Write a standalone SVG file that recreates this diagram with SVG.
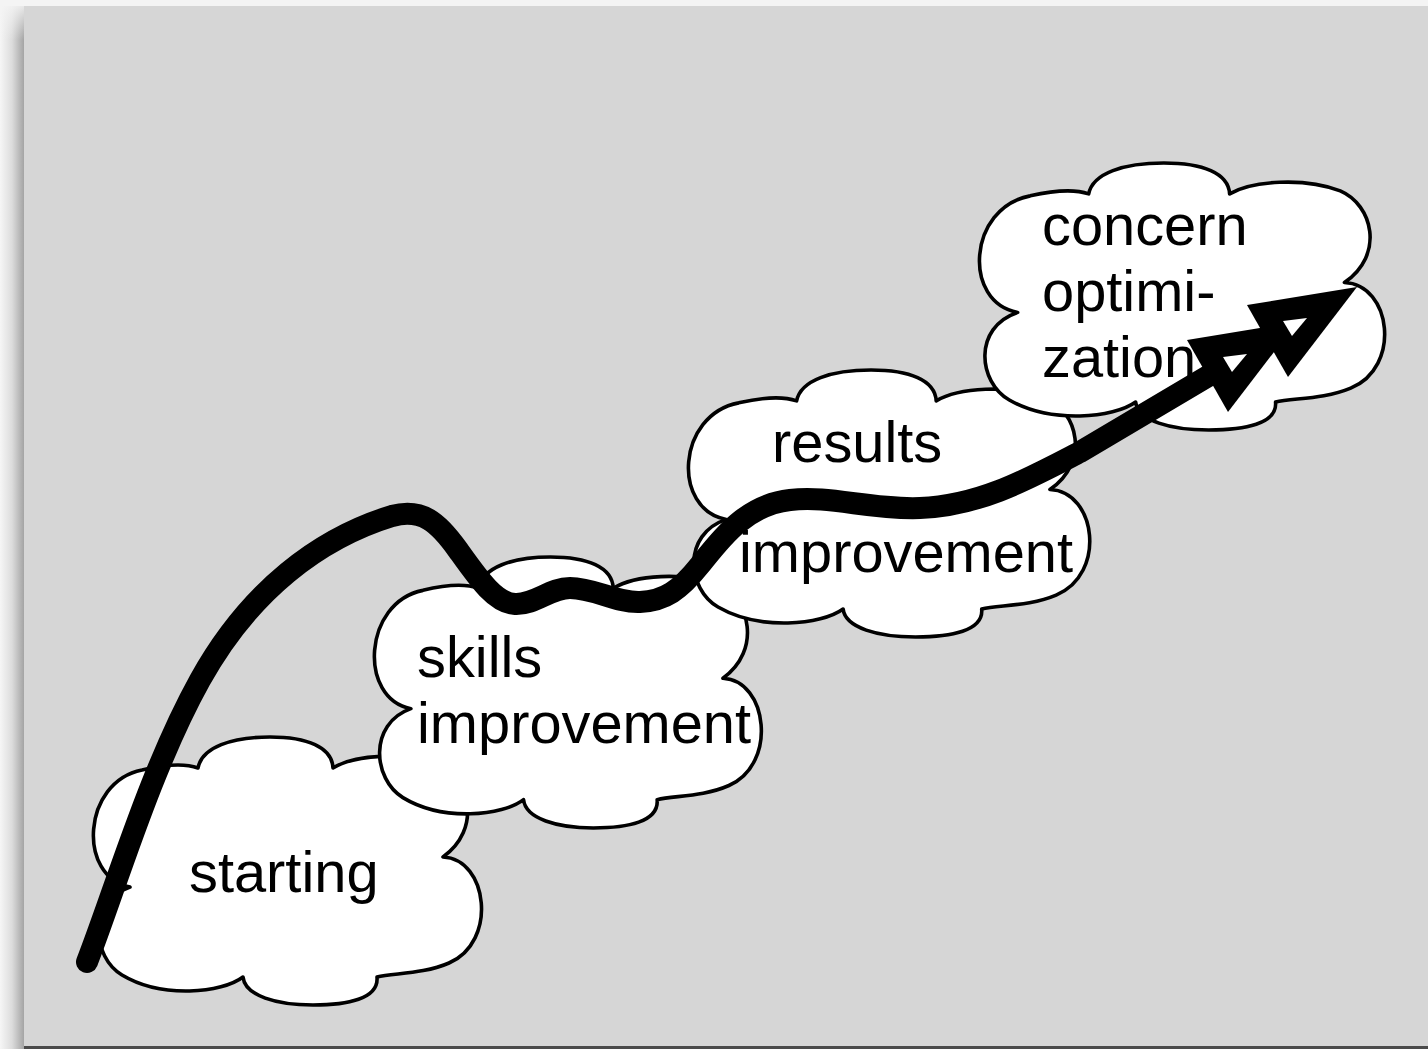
<svg xmlns="http://www.w3.org/2000/svg" xmlns:xlink="http://www.w3.org/1999/xlink" width="1428" height="1049" viewBox="0 0 1428 1049">
  <defs>
    <style>
      .cloud { fill: #ffffff; stroke: #000000; stroke-width: 3.6; stroke-linejoin: round; vector-effect: non-scaling-stroke; }
      .label { font-family: "Liberation Sans", Arial, Helvetica, sans-serif; font-size: 57.8px; fill: #000000; }
      .curve { fill: none; stroke: #000000; stroke-width: 22; stroke-linecap: round; stroke-linejoin: round; }
      .head-outer { fill: #000000; }
      .head-inner { fill: #ffffff; }
    </style>
    <linearGradient id="leftShadow" x1="0" y1="0" x2="1" y2="0">
      <stop offset="0" stop-color="#f6f6f6"/>
      <stop offset="0.5" stop-color="#dcdcdc"/>
      <stop offset="1" stop-color="#a4a4a4"/>
    </linearGradient>
    <linearGradient id="topFade" x1="0" y1="0" x2="0" y2="1">
      <stop offset="0" stop-color="#f4f4f4" stop-opacity="1"/>
      <stop offset="1" stop-color="#f4f4f4" stop-opacity="0"/>
    </linearGradient>
    <path id="cloudShape" class="cloud" d="M38,150 C-15,140 -10,45 50,33 C75,27 95,27 106,31 C110,10 140,0 178,0 C215,0 240,10 241,31 C262,18 312,14 347,28 C378,42 390,92 351,120 C396,122 406,205 357,226 C332,237 302,236 285,240 C287,262 255,268 221,268 C185,268 153,259 151,240 C130,256 70,262 30,238 C0,220 -5,165 38,150 Z"/>
  </defs>

  <g id="background">
    <rect x="0" y="0" width="1428" height="1049" fill="#f4f4f4"/>
    <rect x="0" y="6" width="24" height="1043" fill="url(#leftShadow)"/>
    <rect x="0" y="0" width="24" height="40" fill="url(#topFade)"/>
    <rect x="24" y="6" width="1404" height="1043" fill="#d6d6d6"/>
    <rect x="24" y="1046" width="1404" height="3" fill="#4a4a4a"/>
  </g>

  <g id="node-starting">
    <use xlink:href="#cloudShape" transform="translate(92,737)"/>
    <text class="label" x="189" y="892">starting</text>
  </g>

  <g id="node-skills">
    <use xlink:href="#cloudShape" transform="translate(373,557) scale(0.997,1.011)"/>
    <text class="label" x="417" y="677">skills</text>
    <text class="label" x="417" y="743">improvement</text>
  </g>

  <g id="node-results">
    <use xlink:href="#cloudShape" transform="translate(687,370) scale(1.034,0.996)"/>
    <text class="label" x="772" y="462">results</text>
    <text class="label" x="739" y="572">improvement</text>
  </g>

  <g id="node-concern">
    <use xlink:href="#cloudShape" transform="translate(978,163) scale(1.044,0.996)"/>
    <text class="label" x="1042" y="245">concern</text>
    <text class="label" x="1042" y="311">optimi-</text>
    <text class="label" x="1042" y="377">zation</text>
  </g>

  <g id="connectors">
    <path class="curve" d="M87,962 C115,890 150,770 200,680 C250,590 320,538 392,516 C422,508 438,522 458,550 C478,578 495,603 515,604 C535,605 550,588 570,588 C595,588 615,603 640,602 C665,601 680,590 700,565 C720,540 745,505 790,500 C830,495 870,510 920,508 C980,506 1030,478 1080,452 L1215,372"/>
    <g id="arrowhead">
      <polygon class="head-outer" points="1297,322 1187,340 1228,412"/>
      <polygon class="head-inner" points="1223,357 1247,354 1232,372"/>
      <polygon class="head-outer" points="1357,287 1247,305 1288,377"/>
      <polygon class="head-inner" points="1283,321 1307,318 1292,336"/>
    </g>
  </g>
</svg>
